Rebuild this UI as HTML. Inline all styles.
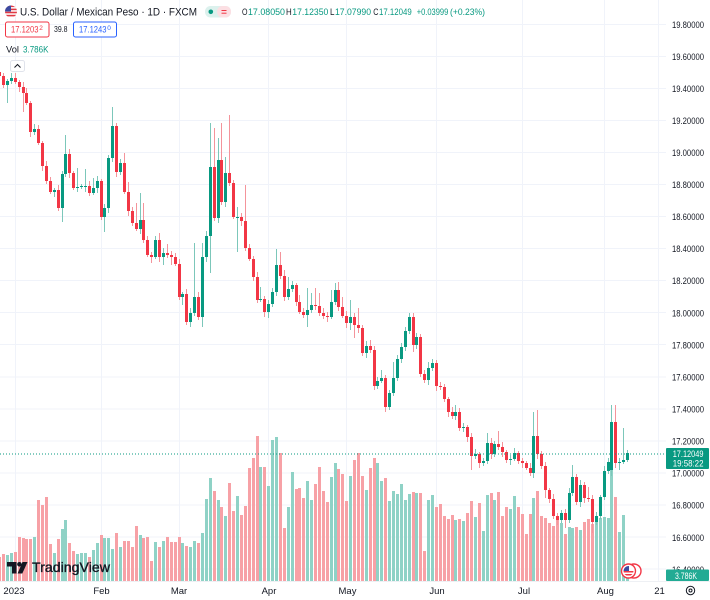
<!DOCTYPE html>
<html><head><meta charset="utf-8">
<style>
html,body{margin:0;padding:0;background:#fff;}
svg{display:block;font-family:"Liberation Sans",Arial,sans-serif;}
</style></head><body>
<svg width="710" height="600" viewBox="0 0 710 600" xmlns="http://www.w3.org/2000/svg">
<rect width="710" height="600" fill="#fff"/>
<g stroke="#f0f3fa" stroke-width="1">
<line x1="0" y1="24.5" x2="666" y2="24.5"/><line x1="0" y1="56.5" x2="666" y2="56.5"/>
<line x1="0" y1="88.5" x2="666" y2="88.5"/><line x1="0" y1="120.5" x2="666" y2="120.5"/>
<line x1="0" y1="152.5" x2="666" y2="152.5"/><line x1="0" y1="184.5" x2="666" y2="184.5"/>
<line x1="0" y1="216.5" x2="666" y2="216.5"/><line x1="0" y1="248.5" x2="666" y2="248.5"/>
<line x1="0" y1="280.5" x2="666" y2="280.5"/><line x1="0" y1="312.5" x2="666" y2="312.5"/>
<line x1="0" y1="344.5" x2="666" y2="344.5"/><line x1="0" y1="377" x2="666" y2="377"/>
<line x1="0" y1="409" x2="666" y2="409"/><line x1="0" y1="441" x2="666" y2="441"/>
<line x1="0" y1="473" x2="666" y2="473"/><line x1="0" y1="505" x2="666" y2="505"/>
<line x1="0" y1="537" x2="666" y2="537"/><line x1="0" y1="569" x2="666" y2="569"/>
<line x1="15.5" y1="0" x2="15.5" y2="581"/><line x1="101.5" y1="0" x2="101.5" y2="581"/>
<line x1="179.5" y1="0" x2="179.5" y2="581"/><line x1="268.5" y1="0" x2="268.5" y2="581"/>
<line x1="346.5" y1="0" x2="346.5" y2="581"/><line x1="436.5" y1="0" x2="436.5" y2="581"/>
<line x1="522.5" y1="0" x2="522.5" y2="581"/><line x1="604.5" y1="0" x2="604.5" y2="581"/>
<line x1="658.5" y1="0" x2="658.5" y2="581"/>
</g>

<!-- volume green -->
<path fill="#8fd2c6" d="M6 555h3V581h-3zM10 553h3V581h-3zM33 537h3V581h-3zM53 553h3V581h-3zM61 529h3V581h-3zM64 520h3V581h-3zM76 554h3V581h-3zM80 553h3V581h-3zM84 553h3V581h-3zM92 550h3V581h-3zM96 543h3V581h-3zM103 538h3V581h-3zM107 538h3V581h-3zM111 549h3V581h-3zM119 547h3V581h-3zM139 535h3V581h-3zM154 542h3V581h-3zM162 541h3V581h-3zM181 543h3V581h-3zM189 547h3V581h-3zM193 541h3V581h-3zM201 533h3V581h-3zM205 499h3V581h-3zM209 478h3V581h-3zM217 500h3V581h-3zM224 516h3V581h-3zM236 496h3V581h-3zM259 467h3V581h-3zM267 486h3V581h-3zM271 440h3V581h-3zM275 437h3V581h-3zM287 507h3V581h-3zM291 472h3V581h-3zM306 481h3V581h-3zM310 500h3V581h-3zM330 477h3V581h-3zM334 463h3V581h-3zM349 476h3V581h-3zM365 490h3V581h-3zM376 463h3V581h-3zM380 481h3V581h-3zM388 501h3V581h-3zM392 491h3V581h-3zM396 494h3V581h-3zM400 484h3V581h-3zM404 500h3V581h-3zM408 494h3V581h-3zM415 493h3V581h-3zM427 500h3V581h-3zM431 495h3V581h-3zM454 520h3V581h-3zM462 521h3V581h-3zM474 517h3V581h-3zM482 531h3V581h-3zM486 495h3V581h-3zM493 500h3V581h-3zM509 509h3V581h-3zM513 496h3V581h-3zM532 498h3V581h-3zM560 523h3V581h-3zM568 527h3V581h-3zM571 528h3V581h-3zM579 530h3V581h-3zM595 516h3V581h-3zM599 518h3V581h-3zM603 517h3V581h-3zM607 518h3V581h-3zM610 470h3V581h-3zM618 532h3V581h-3zM622 515h3V581h-3zM626 578h3V581h-3z"/>
<!-- volume red -->
<path fill="#f7a1a6" d="M-2 557h3V581h-3zM2 554h3V581h-3zM14 552h3V581h-3zM18 537h3V581h-3zM22 538h3V581h-3zM25 539h3V581h-3zM29 539h3V581h-3zM37 500h3V581h-3zM41 505h3V581h-3zM45 497h3V581h-3zM49 544h3V581h-3zM57 539h3V581h-3zM68 543h3V581h-3zM72 551h3V581h-3zM88 557h3V581h-3zM100 535h3V581h-3zM115 533h3V581h-3zM123 541h3V581h-3zM127 541h3V581h-3zM131 547h3V581h-3zM135 526h3V581h-3zM142 538h3V581h-3zM146 537h3V581h-3zM150 561h3V581h-3zM158 547h3V581h-3zM166 537h3V581h-3zM170 542h3V581h-3zM174 542h3V581h-3zM178 537h3V581h-3zM185 546h3V581h-3zM197 543h3V581h-3zM213 491h3V581h-3zM220 507h3V581h-3zM228 483h3V581h-3zM232 511h3V581h-3zM240 515h3V581h-3zM244 506h3V581h-3zM248 468h3V581h-3zM252 458h3V581h-3zM256 436h3V581h-3zM263 467h3V581h-3zM279 453h3V581h-3zM283 528h3V581h-3zM295 489h3V581h-3zM298 488h3V581h-3zM302 498h3V581h-3zM314 484h3V581h-3zM318 467h3V581h-3zM322 491h3V581h-3zM326 502h3V581h-3zM337 469h3V581h-3zM341 474h3V581h-3zM345 501h3V581h-3zM353 460h3V581h-3zM357 453h3V581h-3zM361 476h3V581h-3zM369 468h3V581h-3zM373 458h3V581h-3zM384 478h3V581h-3zM412 492h3V581h-3zM419 493h3V581h-3zM423 551h3V581h-3zM435 507h3V581h-3zM439 504h3V581h-3zM443 516h3V581h-3zM447 519h3V581h-3zM451 515h3V581h-3zM458 519h3V581h-3zM466 513h3V581h-3zM470 501h3V581h-3zM478 503h3V581h-3zM490 493h3V581h-3zM497 492h3V581h-3zM501 516h3V581h-3zM505 507h3V581h-3zM517 507h3V581h-3zM521 514h3V581h-3zM525 534h3V581h-3zM529 514h3V581h-3zM536 491h3V581h-3zM540 516h3V581h-3zM544 518h3V581h-3zM548 523h3V581h-3zM552 526h3V581h-3zM556 520h3V581h-3zM564 534h3V581h-3zM575 527h3V581h-3zM583 522h3V581h-3zM587 519h3V581h-3zM591 524h3V581h-3zM614 497h3V581h-3z"/>

<!-- wicks green -->
<path fill="none" stroke="#7cc7ba" stroke-width="1" d="M7.5 79V103M11.5 73V84M34.5 124V135M54.5 188V197M62.5 171V222M65.5 135V177M77.5 168V192M81.5 184V189M85.5 169V192M93.5 178V195M97.5 176V193M104.5 204V232M108.5 155V213M112.5 107V162M120.5 159V175M140.5 193V234M155.5 236V259M163.5 248V265M182.5 292V305M190.5 308V327M194.5 243V316M202.5 243V327M206.5 231V262M210.5 123V273M218.5 138V223M225.5 157V207M237.5 207V252M260.5 287V302M268.5 300V318M272.5 288V307M276.5 249V296M288.5 277V300M292.5 281V292M307.5 288V327M311.5 293V313M331.5 290V319M335.5 283V305M350.5 300V330M366.5 341V358M377.5 377V389M381.5 370V383M389.5 390V410M393.5 362V396M397.5 355V381M401.5 343V363M405.5 327V351M409.5 313V334M416.5 333V349M428.5 362V385M432.5 359V371M455.5 405V420M463.5 423V432M475.5 449V459M483.5 458V466M487.5 433V464M494.5 441V457M510.5 455V465M514.5 448V461M533.5 412V478M561.5 510V523M569.5 488V523M572.5 465V496M580.5 480V507M596.5 512V525M600.5 495V519M604.5 466V500M608.5 458V474M611.5 405V476M619.5 458V470M623.5 428V464M627.5 450V462"/>
<!-- wicks red -->
<path fill="none" stroke="#f4949b" stroke-width="1" d="M-0.5 69V80M3.5 73V88M15.5 73V84M19.5 80V92M23.5 82V112M26.5 88V105M30.5 101V137M38.5 125V145M42.5 141V171M46.5 161V184M50.5 177V194M58.5 185V211M69.5 149V178M73.5 171V190M89.5 181V196M101.5 179V220M116.5 123V177M124.5 153V194M128.5 182V216M132.5 207V226M136.5 203V231M143.5 203V243M147.5 236V257M151.5 252V263M159.5 233V262M167.5 244V258M171.5 251V265M175.5 253V266M179.5 259V300M186.5 289V325M198.5 292V320M214.5 128V221M221.5 123V205M229.5 115V186M233.5 180V219M241.5 213V226M245.5 185V251M249.5 244V261M253.5 256V281M257.5 272V303M264.5 296V317M280.5 252V279M284.5 270V301M296.5 283V306M299.5 295V314M303.5 308V318M315.5 288V310M319.5 293V316M323.5 308V319M327.5 312V322M338.5 282V311M342.5 297V318M346.5 311V328M354.5 313V338M358.5 308V333M362.5 325V356M370.5 340V353M374.5 346V390M385.5 375V412M413.5 313V352M420.5 334V377M424.5 370V383M436.5 360V391M440.5 382V390M444.5 384V402M448.5 397V417M452.5 407V419M459.5 408V431M467.5 425V442M471.5 433V470M479.5 452V468M491.5 438V459M498.5 431V450M502.5 442V457M506.5 450V463M518.5 451V464M522.5 458V468M526.5 461V470M530.5 463V476M537.5 410V459M541.5 451V469M545.5 462V498M549.5 488V503M553.5 494V519M557.5 513V525M565.5 509V528M576.5 474V505M584.5 482V503M588.5 487V502M592.5 495V533M615.5 405V468"/>

<!-- bodies green -->
<path fill="#089981" d="M6 81h3V85h-3zM10 78h3V81h-3zM33 129h3V132h-3zM53 190h3V192h-3zM61 174h3V208h-3zM64 154h3V174h-3zM76 187h3V188h-3zM80 186h3V187h-3zM84 186h3V187h-3zM92 188h3V193h-3zM96 181h3V188h-3zM103 208h3V217h-3zM107 158h3V208h-3zM111 126h3V158h-3zM119 163h3V172h-3zM139 220h3V229h-3zM154 240h3V257h-3zM162 253h3V257h-3zM181 294h3V297h-3zM189 313h3V322h-3zM193 297h3V313h-3zM201 257h3V317h-3zM205 236h3V257h-3zM209 167h3V236h-3zM217 160h3V218h-3zM224 173h3V202h-3zM236 217h3V218h-3zM259 299h3V300h-3zM267 304h3V312h-3zM271 292h3V304h-3zM275 265h3V292h-3zM287 289h3V297h-3zM291 285h3V289h-3zM306 310h3V315h-3zM310 305h3V310h-3zM330 302h3V317h-3zM334 290h3V302h-3zM349 317h3V323h-3zM365 346h3V353h-3zM376 381h3V386h-3zM380 378h3V381h-3zM388 393h3V407h-3zM392 378h3V393h-3zM396 359h3V378h-3zM400 347h3V359h-3zM404 331h3V347h-3zM408 317h3V331h-3zM415 337h3V345h-3zM427 368h3V380h-3zM431 363h3V368h-3zM454 412h3V416h-3zM462 427h3V428h-3zM474 454h3V456h-3zM482 461h3V463h-3zM486 443h3V461h-3zM493 444h3V454h-3zM509 459h3V460h-3zM513 453h3V459h-3zM532 436h3V473h-3zM560 513h3V520h-3zM568 493h3V520h-3zM571 477h3V493h-3zM579 485h3V502h-3zM595 516h3V522h-3zM599 497h3V516h-3zM603 471h3V497h-3zM607 462h3V471h-3zM610 422h3V470h-3zM618 462h3V463h-3zM622 460h3V462h-3zM626 453h3V460h-3z"/>
<!-- bodies red -->
<path fill="#f23645" d="M-2 72h3V76h-3zM2 76h3V85h-3zM14 78h3V82h-3zM18 82h3V87h-3zM22 87h3V93h-3zM25 93h3V103h-3zM29 103h3V132h-3zM37 129h3V143h-3zM41 143h3V166h-3zM45 166h3V181h-3zM49 181h3V192h-3zM57 190h3V208h-3zM68 154h3V173h-3zM72 173h3V188h-3zM88 186h3V193h-3zM100 181h3V217h-3zM115 126h3V172h-3zM123 163h3V192h-3zM127 192h3V211h-3zM131 211h3V223h-3zM135 223h3V229h-3zM142 220h3V240h-3zM146 240h3V255h-3zM150 255h3V257h-3zM158 240h3V257h-3zM166 253h3V255h-3zM170 255h3V257h-3zM174 257h3V264h-3zM178 264h3V297h-3zM185 294h3V322h-3zM197 297h3V317h-3zM213 167h3V218h-3zM220 160h3V202h-3zM228 173h3V183h-3zM232 183h3V217h-3zM240 217h3V221h-3zM244 221h3V248h-3zM248 248h3V259h-3zM252 259h3V277h-3zM256 277h3V300h-3zM263 299h3V312h-3zM279 265h3V276h-3zM283 276h3V297h-3zM295 285h3V302h-3zM298 302h3V312h-3zM302 312h3V315h-3zM314 305h3V306h-3zM318 306h3V313h-3zM322 313h3V316h-3zM326 316h3V317h-3zM337 290h3V307h-3zM341 307h3V316h-3zM345 316h3V323h-3zM353 317h3V325h-3zM357 325h3V328h-3zM361 328h3V353h-3zM369 346h3V350h-3zM373 350h3V386h-3zM384 378h3V407h-3zM412 317h3V345h-3zM419 337h3V374h-3zM423 374h3V380h-3zM435 363h3V386h-3zM439 386h3V387h-3zM443 387h3V399h-3zM447 399h3V412h-3zM451 412h3V416h-3zM458 412h3V428h-3zM466 427h3V437h-3zM470 437h3V456h-3zM478 454h3V463h-3zM490 443h3V454h-3zM497 444h3V447h-3zM501 447h3V452h-3zM505 452h3V460h-3zM517 453h3V461h-3zM521 461h3V463h-3zM525 463h3V468h-3zM529 468h3V473h-3zM536 436h3V454h-3zM540 454h3V466h-3zM544 466h3V490h-3zM548 490h3V499h-3zM552 499h3V516h-3zM556 516h3V520h-3zM564 513h3V520h-3zM575 477h3V502h-3zM583 485h3V498h-3zM587 498h3V499h-3zM591 499h3V522h-3zM614 422h3V463h-3z"/>

<line x1="0" y1="454" x2="666" y2="454" stroke="#089981" stroke-width="1" stroke-dasharray="1,2"/>

<!-- header -->
<clipPath id="fc"><circle cx="11" cy="11.5" r="6"/></clipPath>
<g clip-path="url(#fc)">
<rect x="5" y="5.5" width="12" height="12" fill="#fff"/>
<rect x="5" y="5.5" width="12" height="1.6" fill="#e03a44"/>
<rect x="5" y="8.6" width="12" height="1.6" fill="#e03a44"/>
<rect x="5" y="11.7" width="12" height="1.6" fill="#e03a44"/>
<rect x="5" y="14.8" width="12" height="1.6" fill="#e03a44"/>
<rect x="5" y="5.5" width="6" height="6" fill="#3b4aa0"/>
</g>
<text x="20" y="15.3" font-size="11" fill="#131722" textLength="177" lengthAdjust="spacingAndGlyphs">U.S. Dollar / Mexican Peso · 1D · FXCM</text>
<rect x="205" y="6" width="26" height="11.5" rx="5.5" fill="#dcf1ed"/>
<rect x="217" y="6" width="14" height="11.5" rx="5.5" fill="#fcdfe3"/>
<circle cx="210.8" cy="11.8" r="2.3" fill="#089981"/>
<line x1="221.5" y1="10.5" x2="226.5" y2="10.5" stroke="#f23645" stroke-width="1"/>
<line x1="221.5" y1="13.2" x2="226.5" y2="13.2" stroke="#f23645" stroke-width="1"/>

<g font-size="9.2">
<text x="242" y="15" fill="#131722" textLength="5.5" lengthAdjust="spacingAndGlyphs">O</text>
<text x="248" y="15" fill="#089981" textLength="37" lengthAdjust="spacingAndGlyphs">17.08050</text>
<text x="286" y="15" fill="#131722" textLength="5.7" lengthAdjust="spacingAndGlyphs">H</text>
<text x="292.3" y="15" fill="#089981" textLength="36" lengthAdjust="spacingAndGlyphs">17.12350</text>
<text x="330" y="15" fill="#131722" textLength="4.5" lengthAdjust="spacingAndGlyphs">L</text>
<text x="335" y="15" fill="#089981" textLength="36" lengthAdjust="spacingAndGlyphs">17.07990</text>
<text x="373.3" y="15" fill="#131722" textLength="5.2" lengthAdjust="spacingAndGlyphs">C</text>
<text x="379" y="15" fill="#089981" textLength="32.7" lengthAdjust="spacingAndGlyphs">17.12049</text>
<text x="416.7" y="15" fill="#089981" textLength="31.6" lengthAdjust="spacingAndGlyphs">+0.03999</text>
<text x="450" y="15" fill="#089981" textLength="35" lengthAdjust="spacingAndGlyphs">(+0.23%)</text>
</g>

<rect x="5.5" y="22" width="43.5" height="15" rx="2" fill="#fff" stroke="#f23645" stroke-width="1"/>
<text x="11" y="32.6" font-size="9" fill="#f23645" textLength="27.5" lengthAdjust="spacingAndGlyphs">17.1203</text>
<text x="39.2" y="30" font-size="6.5" fill="#f23645">2</text>
<text x="54" y="32" font-size="8" fill="#131722" textLength="13.5" lengthAdjust="spacingAndGlyphs">39.8</text>
<rect x="73.5" y="22" width="43" height="15" rx="2" fill="#fff" stroke="#2962ff" stroke-width="1"/>
<text x="79" y="32.6" font-size="9" fill="#2962ff" textLength="27.5" lengthAdjust="spacingAndGlyphs">17.1243</text>
<text x="107.3" y="30" font-size="6.5" fill="#2962ff">0</text>

<text x="6" y="52.7" font-size="9" fill="#131722" textLength="13" lengthAdjust="spacingAndGlyphs">Vol</text>
<text x="23" y="52.7" font-size="9" fill="#089981" textLength="25.5" lengthAdjust="spacingAndGlyphs">3.786K</text>

<rect x="10.5" y="60.5" width="14" height="11" rx="2" fill="#fff" stroke="#e0e3eb" stroke-width="1"/>
<path d="M14.5 67.5 L17.5 64.5 L20.5 67.5" fill="none" stroke="#131722" stroke-width="1"/>

<!-- TradingView logo -->
<path d="M7 562 H16.5 V573.5 H12 V566.5 H7 Z" fill="#131722"/>
<circle cx="19.4" cy="564.3" r="2.3" fill="#131722"/>
<polygon points="22.5,562 27.5,562 22.3,573.5 17.6,573.5" fill="#131722"/>
<text x="32" y="572" font-size="14" fill="#131722" stroke="#131722" stroke-width="0.35" textLength="78" lengthAdjust="spacingAndGlyphs">TradingView</text>

<!-- event icon -->
<circle cx="634" cy="571" r="7" fill="#fff" stroke="#f23645" stroke-width="1.4"/>
<circle cx="628.5" cy="571" r="7" fill="#fff" stroke="#f23645" stroke-width="1.4"/>
<clipPath id="ec"><circle cx="628.5" cy="571" r="5"/></clipPath>
<g clip-path="url(#ec)">
<rect x="623" y="566" width="11" height="11" fill="#fff"/>
<rect x="623" y="571" width="11" height="1.5" fill="#f23645"/>
<rect x="623" y="574" width="11" height="1.5" fill="#f23645"/>
<rect x="623" y="566" width="6" height="5" fill="#3b4aa0"/>
</g>

<!-- price axis -->
<g font-size="9.5" fill="#131722">
<text x="672" y="27.8" textLength="32" lengthAdjust="spacingAndGlyphs">19.80000</text>
<text x="672" y="59.9" textLength="32" lengthAdjust="spacingAndGlyphs">19.60000</text>
<text x="672" y="92" textLength="32" lengthAdjust="spacingAndGlyphs">19.40000</text>
<text x="672" y="124" textLength="32" lengthAdjust="spacingAndGlyphs">19.20000</text>
<text x="672" y="156" textLength="32" lengthAdjust="spacingAndGlyphs">19.00000</text>
<text x="672" y="188" textLength="32" lengthAdjust="spacingAndGlyphs">18.80000</text>
<text x="672" y="220" textLength="32" lengthAdjust="spacingAndGlyphs">18.60000</text>
<text x="672" y="252" textLength="32" lengthAdjust="spacingAndGlyphs">18.40000</text>
<text x="672" y="284" textLength="32" lengthAdjust="spacingAndGlyphs">18.20000</text>
<text x="672" y="316.3" textLength="32" lengthAdjust="spacingAndGlyphs">18.00000</text>
<text x="672" y="348.4" textLength="32" lengthAdjust="spacingAndGlyphs">17.80000</text>
<text x="672" y="380.5" textLength="32" lengthAdjust="spacingAndGlyphs">17.60000</text>
<text x="672" y="412.5" textLength="32" lengthAdjust="spacingAndGlyphs">17.40000</text>
<text x="672" y="444.6" textLength="32" lengthAdjust="spacingAndGlyphs">17.20000</text>
<text x="672" y="476.6" textLength="32" lengthAdjust="spacingAndGlyphs">17.00000</text>
<text x="672" y="508.7" textLength="32" lengthAdjust="spacingAndGlyphs">16.80000</text>
<text x="672" y="540.8" textLength="32" lengthAdjust="spacingAndGlyphs">16.60000</text>
<text x="672" y="572.8" textLength="32" lengthAdjust="spacingAndGlyphs">16.40000</text>
</g>
<rect x="666" y="448" width="43" height="21" rx="1" fill="#089981"/>
<text x="672.7" y="456.8" font-size="9.2" fill="#fff" textLength="30.8" lengthAdjust="spacingAndGlyphs">17.12049</text>
<text x="672.7" y="466.3" font-size="9.2" fill="#fff" textLength="30.8" lengthAdjust="spacingAndGlyphs">19:58:22</text>
<rect x="666" y="569.5" width="43" height="11.5" rx="1" fill="#22ab94"/>
<text x="675" y="579" font-size="9" fill="#fff" textLength="22" lengthAdjust="spacingAndGlyphs">3.786K</text>

<!-- time axis -->
<line x1="0" y1="581.5" x2="710" y2="581.5" stroke="#eef0f4" stroke-width="1"/>
<g font-size="9.5" fill="#131722" text-anchor="middle">
<text x="14" y="594">2023</text>
<text x="101.5" y="594">Feb</text>
<text x="179" y="594">Mar</text>
<text x="269" y="594">Apr</text>
<text x="347.5" y="594">May</text>
<text x="437" y="594">Jun</text>
<text x="524" y="594">Jul</text>
<text x="605.5" y="594">Aug</text>
<text x="659.5" y="594">21</text>
</g>
<circle cx="690.5" cy="590.5" r="4.2" fill="none" stroke="#131722" stroke-width="1"/>
<circle cx="690.5" cy="590.5" r="1.5" fill="none" stroke="#131722" stroke-width="1"/>
</svg>
</body></html>
